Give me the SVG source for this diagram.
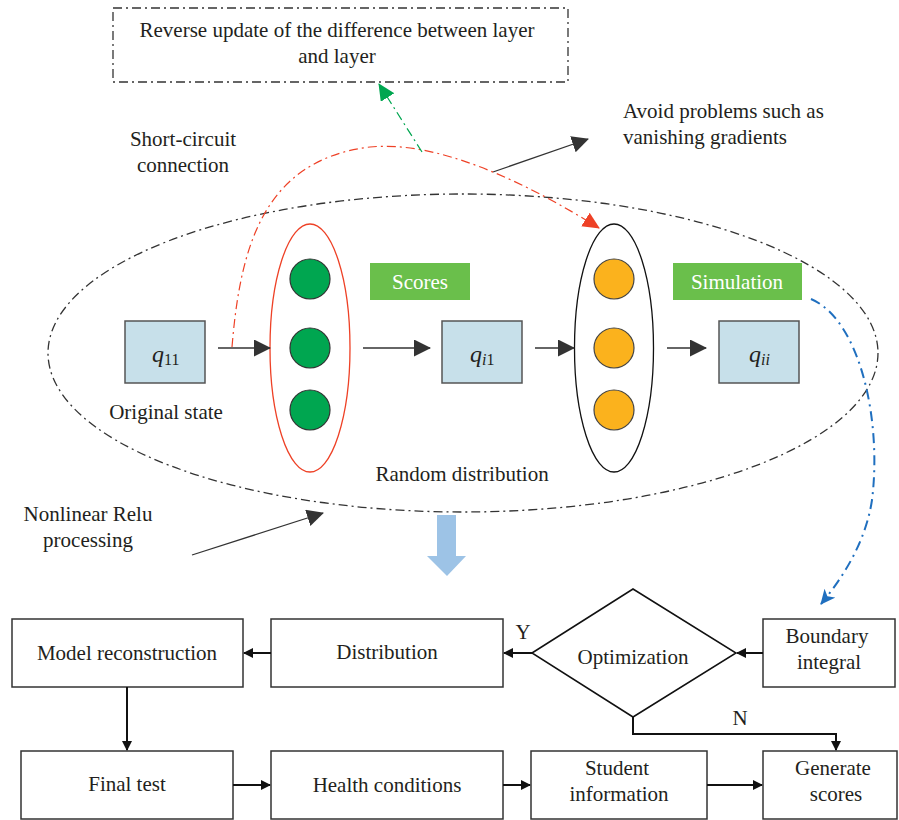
<svg xmlns="http://www.w3.org/2000/svg" width="899" height="820" viewBox="0 0 899 820">
<style>
text{font-family:"Liberation Serif","Times New Roman",serif;font-size:21px;fill:#231f20}
.c{text-anchor:middle}
.box{fill:#fff;stroke:#333;stroke-width:1.5}
.qbox{fill:#c7e0ea;stroke:#555;stroke-width:1.5}
.lbl{fill:#6abf4b}
.wt{fill:#fff}
.dd{fill:none;stroke:#333;stroke-width:1.3;stroke-dasharray:9 4 2 4}
.ln{stroke:#333;stroke-width:1.3;fill:none}
.bl{stroke:#111;stroke-width:2;fill:none}
</style>
<defs>
<marker id="ah" markerWidth="18" markerHeight="18" refX="16" refY="8.5" orient="auto" markerUnits="userSpaceOnUse"><path d="M0,0 L17,8.5 L0,17 Z" fill="#333"/></marker>
<marker id="ab" markerWidth="10" markerHeight="10" refX="9" refY="5" orient="auto" markerUnits="userSpaceOnUse"><path d="M0,0 L10,5 L0,10 Z" fill="#111"/></marker>
<marker id="ar" markerWidth="18" markerHeight="18" refX="16" refY="8" orient="auto" markerUnits="userSpaceOnUse"><path d="M0,0 L17,8 L0,16 Z" fill="#ee4126"/></marker>
<marker id="ag" markerWidth="18" markerHeight="18" refX="16" refY="8" orient="auto" markerUnits="userSpaceOnUse"><path d="M0,0 L17,8 L0,16 Z" fill="#00a650"/></marker>
<marker id="abl" markerWidth="18" markerHeight="18" refX="14" refY="7" orient="auto" markerUnits="userSpaceOnUse"><path d="M0,0 L15,7 L0,14 L4,7 Z" fill="#1f6fbf"/></marker>
</defs>

<g id="top-note">
<rect x="113" y="8" width="455" height="74" fill="#fff" class="dd"/>
<text class="c" x="337" y="37">Reverse update of the difference between layer</text>
<text class="c" x="337" y="63">and layer</text>
</g>

<g id="labels">
<text class="c" x="183" y="146">Short-circuit</text>
<text class="c" x="183" y="172">connection</text>
<text x="623" y="118">Avoid problems such as</text>
<text x="623" y="144">vanishing gradients</text>
<text class="c" x="166" y="419">Original state</text>
<text class="c" x="462" y="481">Random distribution</text>
<text class="c" x="88" y="521">Nonlinear Relu</text>
<text class="c" x="88" y="547">processing</text>
<text class="c" x="523" y="639">Y</text>
<text class="c" x="740" y="725">N</text>
</g>

<g id="big-ellipse">
<ellipse cx="463" cy="353" rx="415" ry="159" class="dd"/>
</g>

<g id="q11"><rect x="125" y="321" width="80" height="62" class="qbox"/><text x="152" y="362" style="font-size:24px;font-style:italic">q<tspan style="font-size:16px;font-style:normal" dy="3">11</tspan></text></g>

<g id="layer1">
<ellipse cx="310" cy="348" rx="40" ry="124" fill="#fff" stroke="#ee4126" stroke-width="1.3"/>
<circle cx="310" cy="279" r="20" fill="#00a650" stroke="#333" stroke-width="1.2"/>
<circle cx="310" cy="348" r="20" fill="#00a650" stroke="#333" stroke-width="1.2"/>
<circle cx="310" cy="410" r="20" fill="#00a650" stroke="#333" stroke-width="1.2"/>
</g>

<g id="scores"><rect x="370" y="263" width="100" height="37" class="lbl"/><text class="c wt" x="420" y="289">Scores</text></g>

<g id="qi1"><rect x="442" y="321" width="80" height="62" class="qbox"/><text x="470" y="362" style="font-size:24px;font-style:italic">q<tspan style="font-size:16px" dy="3">i</tspan><tspan style="font-size:16px;font-style:normal">1</tspan></text></g>

<g id="layer2">
<ellipse cx="614" cy="348" rx="39.5" ry="124" fill="#fff" stroke="#111" stroke-width="1.3"/>
<circle cx="614" cy="279" r="20" fill="#fbb21d" stroke="#444" stroke-width="1.2"/>
<circle cx="614" cy="348" r="20" fill="#fbb21d" stroke="#444" stroke-width="1.2"/>
<circle cx="614" cy="410" r="20" fill="#fbb21d" stroke="#444" stroke-width="1.2"/>
</g>

<g id="simulation"><rect x="673" y="263" width="129" height="37" class="lbl"/><text class="c wt" x="737" y="289">Simulation</text></g>

<g id="qii"><rect x="719" y="321" width="80" height="62" class="qbox"/><text x="749" y="362" style="font-size:24px;font-style:italic">q<tspan style="font-size:16px" dy="3">ii</tspan></text></g>

<g id="model-reconstruction"><rect x="12" y="619" width="231" height="68" class="box"/><text class="c" x="127" y="660">Model reconstruction</text></g>
<g id="distribution"><rect x="271" y="619" width="232" height="68" class="box"/><text class="c" x="387" y="659">Distribution</text></g>
<g id="optimization"><path d="M532,653 L633,589 L736,653 L633,717 Z" fill="#fff" stroke="#111" stroke-width="1.5"/><text class="c" x="633" y="664">Optimization</text></g>
<g id="boundary-integral"><rect x="763" y="619" width="132" height="68" class="box"/><text class="c" x="827" y="643">Boundary</text><text class="c" x="829" y="669">integral</text></g>
<g id="final-test"><rect x="21" y="751" width="212" height="68" class="box"/><text class="c" x="127" y="791">Final test</text></g>
<g id="health-conditions"><rect x="271" y="751" width="232" height="68" class="box"/><text class="c" x="387" y="792">Health conditions</text></g>
<g id="student-information"><rect x="531" y="751" width="176" height="68" class="box"/><text class="c" x="617" y="775">Student</text><text class="c" x="619" y="801">information</text></g>
<g id="generate-scores"><rect x="763" y="751" width="134" height="68" class="box"/><text class="c" x="833" y="775">Generate</text><text class="c" x="836" y="801">scores</text></g>

<g id="connectors">
<line x1="218" y1="348" x2="270" y2="348" class="ln" marker-end="url(#ah)"/>
<line x1="363" y1="348" x2="430" y2="348" class="ln" marker-end="url(#ah)"/>
<line x1="535" y1="348" x2="574" y2="348" class="ln" marker-end="url(#ah)"/>
<line x1="667" y1="348" x2="706" y2="348" class="ln" marker-end="url(#ah)"/>
<line x1="493" y1="172" x2="588" y2="139" class="ln" marker-end="url(#ah)"/>
<line x1="192" y1="555" x2="323" y2="513" class="ln" marker-end="url(#ah)"/>
<path d="M232,347 C240,250 262,160 370,147 C440,140 530,185 599,228" fill="none" stroke="#ee4126" stroke-width="1.2" stroke-dasharray="9 4 2 4" marker-end="url(#ar)"/>
<line x1="422" y1="152" x2="379" y2="84" stroke="#00a650" stroke-width="1.2" stroke-dasharray="9 4 2 4" marker-end="url(#ag)"/>
<path d="M811,299 C860,320 882,420 872,500 C866,540 845,575 821,604" fill="none" stroke="#1f6fbf" stroke-width="2" stroke-dasharray="10 5 2 5" marker-end="url(#abl)"/>
<path d="M437,515 L456,515 L456,556 L466,556 L447,576 L427,556 L437,556 Z" fill="#9dc3e6"/>
<line x1="271" y1="653" x2="244" y2="653" class="bl" marker-end="url(#ab)"/>
<line x1="532" y1="653" x2="504" y2="653" class="bl" marker-end="url(#ab)"/>
<line x1="763" y1="653" x2="737" y2="653" class="bl" marker-end="url(#ab)"/>
<line x1="127" y1="687" x2="127" y2="750" class="bl" marker-end="url(#ab)"/>
<line x1="233" y1="785" x2="270" y2="785" class="bl" marker-end="url(#ab)"/>
<line x1="503" y1="785" x2="530" y2="785" class="bl" marker-end="url(#ab)"/>
<line x1="707" y1="785" x2="762" y2="785" class="bl" marker-end="url(#ab)"/>
<path d="M633,717 L633,734 L836,734 L836,750" class="bl" marker-end="url(#ab)"/>
</g>
</svg>
